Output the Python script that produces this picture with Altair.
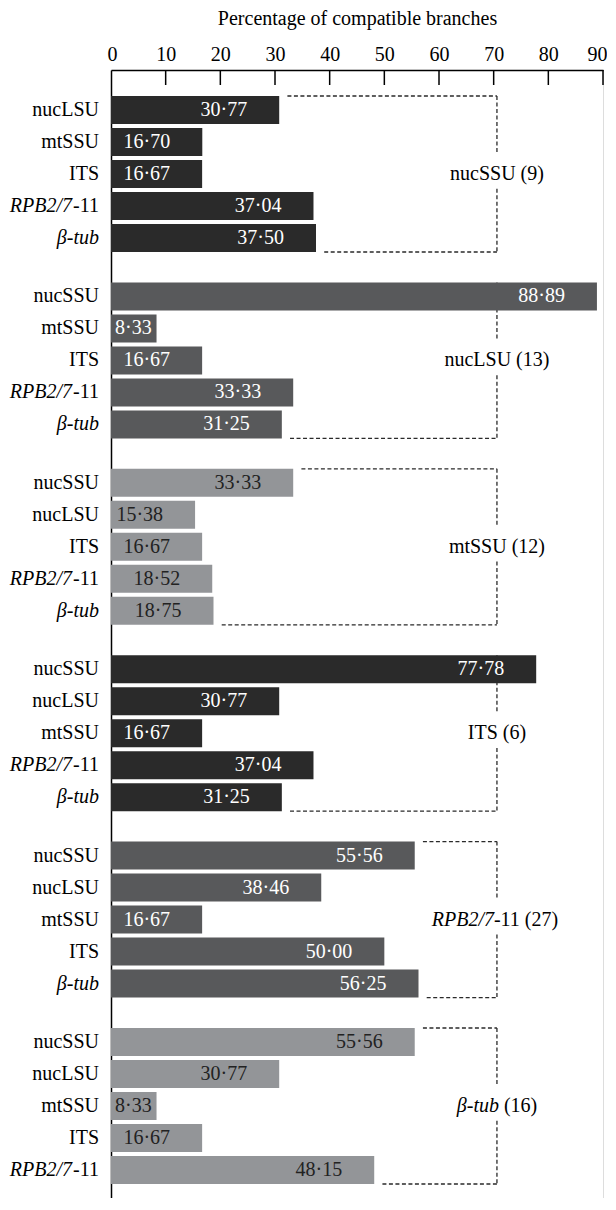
import altair as alt
import pandas as pd

# ---------------- data ----------------
GROUPS = ["nucSSU", "nucLSU", "mtSSU", "ITS", "RPB2/7-11", "β-tub"]
GROUP_COUNTS = [9, 13, 12, 6, 27, 16]
GENES = [
    ["nucLSU", "mtSSU", "ITS", "RPB2/7-11", "β-tub"],
    ["nucSSU", "mtSSU", "ITS", "RPB2/7-11", "β-tub"],
    ["nucSSU", "nucLSU", "ITS", "RPB2/7-11", "β-tub"],
    ["nucSSU", "nucLSU", "mtSSU", "RPB2/7-11", "β-tub"],
    ["nucSSU", "nucLSU", "mtSSU", "ITS", "β-tub"],
    ["nucSSU", "nucLSU", "mtSSU", "ITS", "RPB2/7-11"],
]
VALUES = [
    [30.77, 16.70, 16.67, 37.04, 37.50],
    [88.89, 8.33, 16.67, 33.33, 31.25],
    [33.33, 15.38, 16.67, 18.52, 18.75],
    [77.78, 30.77, 16.67, 37.04, 31.25],
    [55.56, 38.46, 16.67, 50.00, 56.25],
    [55.56, 30.77, 8.33, 16.67, 48.15],
]
TICKS = [0, 10, 20, 30, 40, 50, 60, 70, 80, 90]
BRACKET_AT = 70.6
AXIS_TITLE = "Percentage of compatible branches"

# ---------------- styling ----------------
FONT = "Liberation Serif"
BAR_COLORS = ["#2a2a2a", "#58595b", "#939598", "#2a2a2a", "#58595b", "#939598"]
VALUE_COLORS = ["#ffffff", "#ffffff", "#222222", "#ffffff", "#ffffff", "#222222"]
DASH_COLOR = "#2a2a2a"
GAP = 1.5  # gap (in % units) between bar end and bracket line
ITALIC_SPLIT = {"RPB2/7-11": ("RPB2/7", "-11"), "β-tub": ("β-tub", "")}


def split(name):
    return ITALIC_SPLIT.get(name, ("", name))


bar_rows = []
for g, genes, vals in zip(GROUPS, GENES, VALUES):
    for rank, (gene, v) in enumerate(zip(genes, vals), start=1):
        it, up = split(gene)
        bar_rows.append({
            "group": g, "rank": rank, "gene": gene, "value": v,
            "label": f"{v:.2f}".replace(".", "·"),
            "g_it": it, "g_up": up,
        })
bars_df = pd.DataFrame(bar_rows)

grp_rows = []
for g, n, vals in zip(GROUPS, GROUP_COUNTS, VALUES):
    it, up = split(g)
    tail = (up + " " if up else "") + f"({n})"
    kind = "plain" if not it else ("mixed" if up else "italic")
    grp_rows.append({
        "group": g, "bx": BRACKET_AT,
        "top_start": vals[0] + GAP, "bot_start": vals[-1] + GAP,
        "g_it": it, "tail": tail, "kind": kind,
    })
grp_df = pd.DataFrame(grp_rows)
ticks_df = pd.DataFrame({"tick": TICKS})

# ---------------- scales / encodings ----------------
XSCALE = alt.Scale(domain=[0, 90], nice=False, zero=True)
YSCALE = alt.Scale(domain=GROUPS, paddingInner=0.1631, paddingOuter=0.1073, align=0.65)
YOFF = alt.YOffset("rank:O", scale=alt.Scale(domain=[1, 2, 3, 4, 5], paddingInner=0.125, paddingOuter=0))

x_axis = alt.Axis(
    orient="top", values=TICKS, title=AXIS_TITLE, grid=False,
    ticks=False, labelPadding=6, labelFlush=True, labelFlushOffset=4,
    labelFont=FONT, labelFontSize=20, labelColor="black",
    titleFont=FONT, titleFontSize=20, titleFontWeight="normal", titleColor="black",
    titlePadding=16, domainColor="black", domainWidth=1.5,
)
y_axis = alt.Axis(labels=False, ticks=False, title=None, grid=False,
                  domainColor="black", domainWidth=1.5)

dash = dict(strokeDash=[4, 2.5], color=DASH_COLOR, strokeWidth=1.3)

# ticks pointing into the plot (first layer carries the axis definitions)
ticks = alt.Chart(ticks_df).transform_filter("datum.tick > 0").mark_rule(
    color="black", strokeWidth=1.5
).encode(
    x=alt.X("tick:Q", scale=XSCALE, axis=x_axis),
    y=alt.value(0), y2=alt.value(15),
)
# invisible layer that only carries the group axis
yaxis_layer = alt.Chart(grp_df).mark_rule(opacity=0).encode(
    y=alt.Y("group:N", scale=YSCALE, axis=y_axis),
)

# bracket pieces
top_h = alt.Chart(grp_df).transform_filter("datum.top_start < datum.bx").mark_rule(**dash).encode(
    x=alt.X("top_start:Q"), x2="bx:Q",
    y=alt.Y("group:N", bandPosition=0),
)
bot_h = alt.Chart(grp_df).transform_filter("datum.bot_start < datum.bx").mark_rule(**dash).encode(
    x=alt.X("bot_start:Q"), x2="bx:Q",
    y=alt.Y("group:N", bandPosition=1),
)
v_up = alt.Chart(grp_df).mark_rule(**dash).encode(
    x=alt.X("bx:Q"),
    y=alt.Y("group:N", bandPosition=0),
    y2=alt.Y2("group", bandPosition=0.375),
)
v_low = alt.Chart(grp_df).mark_rule(**dash).encode(
    x=alt.X("bx:Q"),
    y=alt.Y("group:N", bandPosition=0.595),
    y2=alt.Y2("group", bandPosition=1),
)

bars = alt.Chart(bars_df).mark_bar().encode(
    x=alt.X("value:Q"),
    y=alt.Y("group:N"),
    yOffset=YOFF,
    color=alt.Color("group:N", scale=alt.Scale(domain=GROUPS, range=BAR_COLORS), legend=None),
)

val_color = alt.Color("group:N", scale=alt.Scale(domain=GROUPS, range=VALUE_COLORS), legend=None)
txt = dict(font=FONT, fontSize=20, baseline="middle")

val_big = alt.Chart(bars_df).transform_filter("datum.value >= 10").mark_text(
    align="right", dx=-32, **txt
).encode(
    x=alt.X("value:Q"), y=alt.Y("group:N"), yOffset=YOFF,
    text="label:N", color=val_color,
)
val_small = alt.Chart(bars_df).transform_filter("datum.value < 10").mark_text(
    align="left", dx=4, **txt
).encode(
    x=alt.value(0), y=alt.Y("group:N"), yOffset=YOFF,
    text="label:N", color=val_color,
)

# gene labels at left (mixed italic / upright)
gene_up = alt.Chart(bars_df).transform_filter("datum.g_up != ''").mark_text(
    align="right", dx=-12, color="black", **txt
).encode(x=alt.value(0), y=alt.Y("group:N"), yOffset=YOFF, text="g_up:N")
gene_it = alt.Chart(bars_df).transform_filter("datum.g_it != '' && datum.g_up == ''").mark_text(
    align="right", dx=-12, color="black", fontStyle="italic", **txt
).encode(x=alt.value(0), y=alt.Y("group:N"), yOffset=YOFF, text="g_it:N")
gene_it_pre = alt.Chart(bars_df).transform_filter("datum.g_it != '' && datum.g_up != ''").mark_text(
    align="right", dx=-39, color="black", fontStyle="italic", **txt
).encode(x=alt.value(0), y=alt.Y("group:N"), yOffset=YOFF, text="g_it:N")

# group labels on the bracket
g_plain = alt.Chart(grp_df).transform_filter("datum.kind == 'plain'").mark_text(
    align="center", color="black", **txt
).encode(x=alt.X("bx:Q"), y=alt.Y("group:N"), text="tail:N")
g_mixed_it = alt.Chart(grp_df).transform_filter("datum.kind == 'mixed'").mark_text(
    align="right", dx=-3, color="black", fontStyle="italic", **txt
).encode(x=alt.X("bx:Q"), y=alt.Y("group:N"), text="g_it:N")
g_mixed_up = alt.Chart(grp_df).transform_filter("datum.kind == 'mixed'").mark_text(
    align="left", dx=-3, color="black", **txt
).encode(x=alt.X("bx:Q"), y=alt.Y("group:N"), text="tail:N")
g_ital_it = alt.Chart(grp_df).transform_filter("datum.kind == 'italic'").mark_text(
    align="right", dx=2, color="black", fontStyle="italic", **txt
).encode(x=alt.X("bx:Q"), y=alt.Y("group:N"), text="g_it:N")
g_ital_up = alt.Chart(grp_df).transform_filter("datum.kind == 'italic'").mark_text(
    align="left", dx=7, color="black", **txt
).encode(x=alt.X("bx:Q"), y=alt.Y("group:N"), text="tail:N")

chart = alt.layer(
    ticks, yaxis_layer, top_h, bot_h, v_up, v_low, bars, val_big, val_small,
    gene_up, gene_it, gene_it_pre,
    g_plain, g_mixed_it, g_mixed_up, g_ital_it, g_ital_up,
).resolve_scale(color="independent").properties(
    width=492, height=1128,
    padding={"left": 1, "top": 0, "right": 0, "bottom": 0},
).configure_view(stroke=None).configure(font=FONT)

chart.save("out.html", embed_options={"renderer": "svg", "actions": False})
